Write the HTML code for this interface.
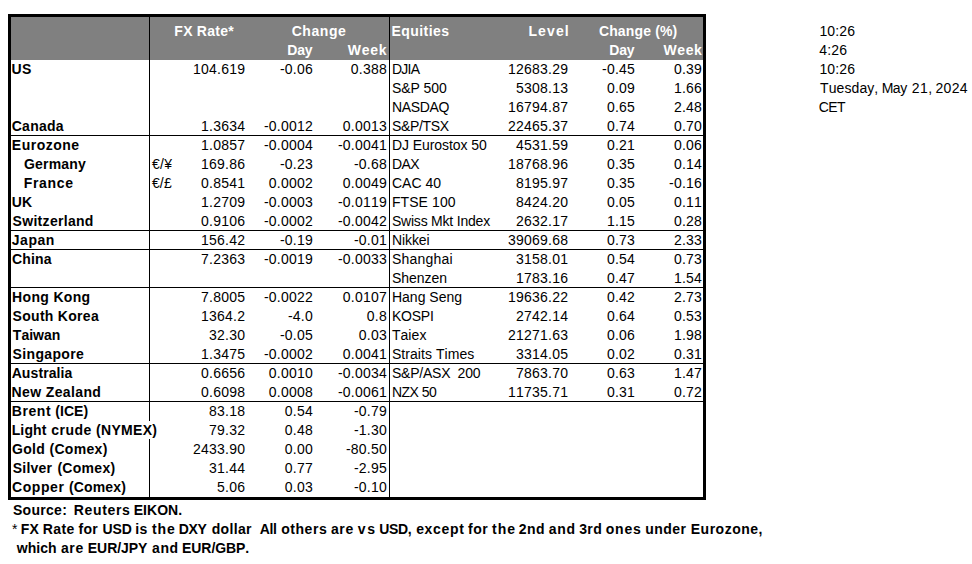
<!DOCTYPE html>
<html><head><meta charset="utf-8"><title>FX</title>
<style>
html,body{margin:0;padding:0;background:#fff;}
body{width:972px;height:564px;position:relative;overflow:hidden;font-family:"Liberation Sans",sans-serif;font-size:14px;line-height:19px;color:#000;}
.t{position:absolute;white-space:pre;height:19px;font-kerning:none;font-feature-settings:"kern" 0,"liga" 0;}
.b{font-weight:bold;}
.w{color:#fff;font-weight:bold;}
.k{position:absolute;background:#000;}
</style></head><body>

<div style="position:absolute;left:11px;top:17px;width:692px;height:43px;background:#808080"></div>
<div class="k" style="left:8px;top:14px;width:698px;height:3px"></div>
<div class="k" style="left:8px;top:497px;width:698px;height:3px"></div>
<div class="k" style="left:8px;top:14px;width:3px;height:486px"></div>
<div class="k" style="left:703px;top:14px;width:3px;height:486px"></div>
<div class="k" style="left:149px;top:17px;width:1px;height:404px"></div>
<div class="k" style="left:149px;top:439px;width:1px;height:58px"></div>
<div class="k" style="left:389px;top:17px;width:1px;height:480px"></div>
<div class="k" style="left:11px;top:135px;width:692px;height:1px"></div>
<div class="k" style="left:11px;top:230px;width:692px;height:1px"></div>
<div class="k" style="left:11px;top:249px;width:692px;height:1px"></div>
<div class="k" style="left:11px;top:287px;width:692px;height:1px"></div>
<div class="k" style="left:11px;top:363px;width:692px;height:1px"></div>
<div class="k" style="left:11px;top:401px;width:692px;height:1px"></div>
<div class="t w" style="left:174.36px;top:22px;letter-spacing:0.240px">FX Rate*</div>
<div class="t w" style="left:291.73px;top:22px;letter-spacing:0.543px">Change</div>
<div class="t w" style="left:287.26px;top:41px;letter-spacing:-0.235px">Day</div>
<div class="t w" style="left:347.79px;top:41px;letter-spacing:0.709px">Week</div>
<div class="t w" style="left:391.46px;top:22px;letter-spacing:0.437px">Equities</div>
<div class="t w" style="left:528.46px;top:22px;letter-spacing:1.107px">Level</div>
<div class="t w" style="left:598.93px;top:22px;letter-spacing:0.141px">Change (%)</div>
<div class="t w" style="left:609.26px;top:41px;letter-spacing:-0.235px">Day</div>
<div class="t w" style="left:663.39px;top:41px;letter-spacing:0.643px">Week</div>
<div class="t b" style="left:11.56px;top:60px;letter-spacing:0.339px">US</div>
<div class="t " style="left:193.07px;top:60px;letter-spacing:0.220px">104.619</div>
<div class="t " style="left:279.91px;top:60px;letter-spacing:0.220px">-0.06</div>
<div class="t " style="left:350.79px;top:60px;letter-spacing:0.220px">0.388</div>
<div class="t " style="left:391.90px;top:60px;letter-spacing:-0.737px">DJIA</div>
<div class="t " style="left:508.07px;top:60px;letter-spacing:0.220px">12683.29</div>
<div class="t " style="left:602.01px;top:60px;letter-spacing:0.220px">-0.45</div>
<div class="t " style="left:673.99px;top:60px;letter-spacing:0.220px">0.39</div>
<div class="t " style="left:391.90px;top:79px;letter-spacing:-0.061px">S&amp;P 500</div>
<div class="t " style="left:516.07px;top:79px;letter-spacing:0.220px">5308.13</div>
<div class="t " style="left:606.89px;top:79px;letter-spacing:0.220px">0.09</div>
<div class="t " style="left:673.99px;top:79px;letter-spacing:0.220px">1.66</div>
<div class="t " style="left:391.90px;top:98px;letter-spacing:-0.321px">NASDAQ</div>
<div class="t " style="left:508.07px;top:98px;letter-spacing:0.220px">16794.87</div>
<div class="t " style="left:606.89px;top:98px;letter-spacing:0.220px">0.65</div>
<div class="t " style="left:673.99px;top:98px;letter-spacing:0.220px">2.48</div>
<div class="t b" style="left:11.73px;top:117px;letter-spacing:0.273px">Canada</div>
<div class="t " style="left:201.08px;top:117px;letter-spacing:0.220px">1.3634</div>
<div class="t " style="left:263.90px;top:117px;letter-spacing:0.220px">-0.0012</div>
<div class="t " style="left:342.78px;top:117px;letter-spacing:0.220px">0.0013</div>
<div class="t " style="left:391.90px;top:117px;letter-spacing:-0.331px">S&amp;P/TSX</div>
<div class="t " style="left:508.07px;top:117px;letter-spacing:0.220px">22465.37</div>
<div class="t " style="left:606.89px;top:117px;letter-spacing:0.220px">0.74</div>
<div class="t " style="left:673.99px;top:117px;letter-spacing:0.220px">0.70</div>
<div class="t b" style="left:11.86px;top:136px;letter-spacing:0.477px">Eurozone</div>
<div class="t " style="left:201.08px;top:136px;letter-spacing:0.220px">1.0857</div>
<div class="t " style="left:263.90px;top:136px;letter-spacing:0.220px">-0.0004</div>
<div class="t " style="left:337.90px;top:136px;letter-spacing:0.220px">-0.0041</div>
<div class="t " style="left:391.90px;top:136px;letter-spacing:-0.063px">DJ Eurostox 50</div>
<div class="t " style="left:516.07px;top:136px;letter-spacing:0.220px">4531.59</div>
<div class="t " style="left:606.89px;top:136px;letter-spacing:0.220px">0.21</div>
<div class="t " style="left:673.99px;top:136px;letter-spacing:0.220px">0.06</div>
<div class="t b" style="left:23.93px;top:155px;letter-spacing:0.201px">Germany</div>
<div class="t " style="left:151.89px;top:155px;letter-spacing:0.313px">€/¥</div>
<div class="t " style="left:201.08px;top:155px;letter-spacing:0.220px">169.86</div>
<div class="t " style="left:279.91px;top:155px;letter-spacing:0.220px">-0.23</div>
<div class="t " style="left:353.91px;top:155px;letter-spacing:0.220px">-0.68</div>
<div class="t " style="left:391.90px;top:155px;letter-spacing:-0.571px">DAX</div>
<div class="t " style="left:508.07px;top:155px;letter-spacing:0.220px">18768.96</div>
<div class="t " style="left:606.89px;top:155px;letter-spacing:0.220px">0.35</div>
<div class="t " style="left:673.99px;top:155px;letter-spacing:0.220px">0.14</div>
<div class="t b" style="left:23.81px;top:174px;letter-spacing:0.651px">France</div>
<div class="t " style="left:151.89px;top:174px;letter-spacing:0.193px">€/£</div>
<div class="t " style="left:201.08px;top:174px;letter-spacing:0.220px">0.8541</div>
<div class="t " style="left:268.78px;top:174px;letter-spacing:0.220px">0.0002</div>
<div class="t " style="left:342.78px;top:174px;letter-spacing:0.220px">0.0049</div>
<div class="t " style="left:391.90px;top:174px;letter-spacing:0.025px">CAC 40</div>
<div class="t " style="left:516.07px;top:174px;letter-spacing:0.220px">8195.97</div>
<div class="t " style="left:606.89px;top:174px;letter-spacing:0.220px">0.35</div>
<div class="t " style="left:669.11px;top:174px;letter-spacing:0.220px">-0.16</div>
<div class="t b" style="left:11.66px;top:193px;letter-spacing:0.250px">UK</div>
<div class="t " style="left:201.08px;top:193px;letter-spacing:0.220px">1.2709</div>
<div class="t " style="left:263.90px;top:193px;letter-spacing:0.220px">-0.0003</div>
<div class="t " style="left:337.90px;top:193px;letter-spacing:0.220px">-0.0119</div>
<div class="t " style="left:391.90px;top:193px;letter-spacing:0.089px">FTSE 100</div>
<div class="t " style="left:516.07px;top:193px;letter-spacing:0.220px">8424.20</div>
<div class="t " style="left:606.89px;top:193px;letter-spacing:0.220px">0.05</div>
<div class="t " style="left:673.99px;top:193px;letter-spacing:0.220px">0.11</div>
<div class="t b" style="left:12.60px;top:212px;letter-spacing:0.303px">Switzerland</div>
<div class="t " style="left:201.08px;top:212px;letter-spacing:0.220px">0.9106</div>
<div class="t " style="left:263.90px;top:212px;letter-spacing:0.220px">-0.0002</div>
<div class="t " style="left:337.90px;top:212px;letter-spacing:0.220px">-0.0042</div>
<div class="t " style="left:391.90px;top:212px;letter-spacing:-0.206px">Swiss Mkt Index</div>
<div class="t " style="left:516.07px;top:212px;letter-spacing:0.220px">2632.17</div>
<div class="t " style="left:606.89px;top:212px;letter-spacing:0.220px">1.15</div>
<div class="t " style="left:673.99px;top:212px;letter-spacing:0.220px">0.28</div>
<div class="t b" style="left:11.79px;top:231px;letter-spacing:0.530px">Japan</div>
<div class="t " style="left:201.08px;top:231px;letter-spacing:0.220px">156.42</div>
<div class="t " style="left:279.91px;top:231px;letter-spacing:0.220px">-0.19</div>
<div class="t " style="left:353.91px;top:231px;letter-spacing:0.220px">-0.01</div>
<div class="t " style="left:391.90px;top:231px;letter-spacing:-0.065px">Nikkei</div>
<div class="t " style="left:508.07px;top:231px;letter-spacing:0.220px">39069.68</div>
<div class="t " style="left:606.89px;top:231px;letter-spacing:0.220px">0.73</div>
<div class="t " style="left:673.99px;top:231px;letter-spacing:0.220px">2.33</div>
<div class="t b" style="left:11.93px;top:250px;letter-spacing:0.211px">China</div>
<div class="t " style="left:201.08px;top:250px;letter-spacing:0.220px">7.2363</div>
<div class="t " style="left:263.90px;top:250px;letter-spacing:0.220px">-0.0019</div>
<div class="t " style="left:337.90px;top:250px;letter-spacing:0.220px">-0.0033</div>
<div class="t " style="left:391.90px;top:250px;letter-spacing:0.233px">Shanghai</div>
<div class="t " style="left:516.07px;top:250px;letter-spacing:0.220px">3158.01</div>
<div class="t " style="left:606.89px;top:250px;letter-spacing:0.220px">0.54</div>
<div class="t " style="left:673.99px;top:250px;letter-spacing:0.220px">0.73</div>
<div class="t " style="left:391.90px;top:269px;letter-spacing:-0.002px">Shenzen</div>
<div class="t " style="left:516.07px;top:269px;letter-spacing:0.220px">1783.16</div>
<div class="t " style="left:606.89px;top:269px;letter-spacing:0.220px">0.47</div>
<div class="t " style="left:673.99px;top:269px;letter-spacing:0.220px">1.54</div>
<div class="t b" style="left:12.06px;top:288px;letter-spacing:0.338px">Hong Kong</div>
<div class="t " style="left:201.08px;top:288px;letter-spacing:0.220px">7.8005</div>
<div class="t " style="left:263.90px;top:288px;letter-spacing:0.220px">-0.0022</div>
<div class="t " style="left:342.78px;top:288px;letter-spacing:0.220px">0.0107</div>
<div class="t " style="left:391.90px;top:288px;letter-spacing:0.025px">Hang Seng</div>
<div class="t " style="left:508.07px;top:288px;letter-spacing:0.220px">19636.22</div>
<div class="t " style="left:606.89px;top:288px;letter-spacing:0.220px">0.42</div>
<div class="t " style="left:673.99px;top:288px;letter-spacing:0.220px">2.73</div>
<div class="t b" style="left:12.60px;top:307px;letter-spacing:0.284px">South Korea</div>
<div class="t " style="left:201.08px;top:307px;letter-spacing:0.220px">1364.2</div>
<div class="t " style="left:287.92px;top:307px;letter-spacing:0.220px">-4.0</div>
<div class="t " style="left:366.80px;top:307px;letter-spacing:0.220px">0.8</div>
<div class="t " style="left:391.90px;top:307px;letter-spacing:-0.225px">KOSPI</div>
<div class="t " style="left:516.07px;top:307px;letter-spacing:0.220px">2742.14</div>
<div class="t " style="left:606.89px;top:307px;letter-spacing:0.220px">0.64</div>
<div class="t " style="left:673.99px;top:307px;letter-spacing:0.220px">0.53</div>
<div class="t b" style="left:12.84px;top:326px;letter-spacing:0.014px">Taiwan</div>
<div class="t " style="left:209.09px;top:326px;letter-spacing:0.220px">32.30</div>
<div class="t " style="left:279.91px;top:326px;letter-spacing:0.220px">-0.05</div>
<div class="t " style="left:358.79px;top:326px;letter-spacing:0.220px">0.03</div>
<div class="t " style="left:391.90px;top:326px;letter-spacing:0.067px">Taiex</div>
<div class="t " style="left:508.07px;top:326px;letter-spacing:0.220px">21271.63</div>
<div class="t " style="left:606.89px;top:326px;letter-spacing:0.220px">0.06</div>
<div class="t " style="left:673.99px;top:326px;letter-spacing:0.220px">1.98</div>
<div class="t b" style="left:12.60px;top:345px;letter-spacing:0.335px">Singapore</div>
<div class="t " style="left:201.08px;top:345px;letter-spacing:0.220px">1.3475</div>
<div class="t " style="left:263.90px;top:345px;letter-spacing:0.220px">-0.0002</div>
<div class="t " style="left:342.78px;top:345px;letter-spacing:0.220px">0.0041</div>
<div class="t " style="left:391.90px;top:345px;letter-spacing:0.057px">Straits Times</div>
<div class="t " style="left:516.07px;top:345px;letter-spacing:0.220px">3314.05</div>
<div class="t " style="left:606.89px;top:345px;letter-spacing:0.220px">0.02</div>
<div class="t " style="left:673.99px;top:345px;letter-spacing:0.220px">0.31</div>
<div class="t b" style="left:11.65px;top:364px;letter-spacing:0.106px">Australia</div>
<div class="t " style="left:201.08px;top:364px;letter-spacing:0.220px">0.6656</div>
<div class="t " style="left:268.78px;top:364px;letter-spacing:0.220px">0.0010</div>
<div class="t " style="left:337.90px;top:364px;letter-spacing:0.220px">-0.0034</div>
<div class="t " style="left:391.90px;top:364px;letter-spacing:-0.219px">S&amp;P/ASX  200</div>
<div class="t " style="left:516.07px;top:364px;letter-spacing:0.220px">7863.70</div>
<div class="t " style="left:606.89px;top:364px;letter-spacing:0.220px">0.63</div>
<div class="t " style="left:673.99px;top:364px;letter-spacing:0.220px">1.47</div>
<div class="t b" style="left:11.56px;top:383px;letter-spacing:0.378px">New Zealand</div>
<div class="t " style="left:201.08px;top:383px;letter-spacing:0.220px">0.6098</div>
<div class="t " style="left:268.78px;top:383px;letter-spacing:0.220px">0.0008</div>
<div class="t " style="left:337.90px;top:383px;letter-spacing:0.220px">-0.0061</div>
<div class="t " style="left:391.90px;top:383px;letter-spacing:-0.513px">NZX 50</div>
<div class="t " style="left:508.07px;top:383px;letter-spacing:0.220px">11735.71</div>
<div class="t " style="left:606.89px;top:383px;letter-spacing:0.220px">0.31</div>
<div class="t " style="left:673.99px;top:383px;letter-spacing:0.220px">0.72</div>
<div class="t b" style="left:11.66px;top:402px;letter-spacing:0.612px">Brent</div>
<div class="t b" style="left:55.20px;top:402px;letter-spacing:0.083px">(ICE)</div>
<div class="t " style="left:209.09px;top:402px;letter-spacing:0.220px">83.18</div>
<div class="t " style="left:284.79px;top:402px;letter-spacing:0.220px">0.54</div>
<div class="t " style="left:353.91px;top:402px;letter-spacing:0.220px">-0.79</div>
<div class="t b" style="left:11.66px;top:421px;letter-spacing:0.150px">Light</div>
<div class="t b" style="left:51.25px;top:421px;letter-spacing:0.500px">crude</div>
<div class="t b" style="left:96.10px;top:421px;letter-spacing:0.297px">(NYMEX)</div>
<div class="t " style="left:209.09px;top:421px;letter-spacing:0.220px">79.32</div>
<div class="t " style="left:284.79px;top:421px;letter-spacing:0.220px">0.48</div>
<div class="t " style="left:353.91px;top:421px;letter-spacing:0.220px">-1.30</div>
<div class="t b" style="left:12.03px;top:440px;letter-spacing:0.271px">Gold</div>
<div class="t b" style="left:49.40px;top:440px;letter-spacing:0.331px">(Comex)</div>
<div class="t " style="left:193.07px;top:440px;letter-spacing:0.220px">2433.90</div>
<div class="t " style="left:284.79px;top:440px;letter-spacing:0.220px">0.00</div>
<div class="t " style="left:345.90px;top:440px;letter-spacing:0.220px">-80.50</div>
<div class="t b" style="left:12.70px;top:459px;letter-spacing:0.236px">Silver</div>
<div class="t b" style="left:57.40px;top:459px;letter-spacing:0.298px">(Comex)</div>
<div class="t " style="left:209.09px;top:459px;letter-spacing:0.220px">31.44</div>
<div class="t " style="left:284.79px;top:459px;letter-spacing:0.220px">0.77</div>
<div class="t " style="left:353.91px;top:459px;letter-spacing:0.220px">-2.95</div>
<div class="t b" style="left:12.03px;top:478px;letter-spacing:0.577px">Copper</div>
<div class="t b" style="left:69.00px;top:478px;letter-spacing:0.148px">(Comex)</div>
<div class="t " style="left:217.09px;top:478px;letter-spacing:0.220px">5.06</div>
<div class="t " style="left:284.79px;top:478px;letter-spacing:0.220px">0.03</div>
<div class="t " style="left:353.91px;top:478px;letter-spacing:0.220px">-0.10</div>
<div class="t b" style="left:12.90px;top:501px;letter-spacing:0.304px">Source:</div>
<div class="t b" style="left:73.76px;top:501px;letter-spacing:0.647px">Reuters</div>
<div class="t b" style="left:133.76px;top:501px;letter-spacing:0.035px">EIKON.</div>
<div class="t " style="left:11.97px;top:520px;letter-spacing:0.000px">*</div>
<div class="t b" style="left:20.76px;top:520px;letter-spacing:0.170px">FX</div>
<div class="t b" style="left:42.76px;top:520px;letter-spacing:0.390px">Rate</div>
<div class="t b" style="left:78.46px;top:520px;letter-spacing:0.295px">for</div>
<div class="t b" style="left:102.46px;top:520px;letter-spacing:-0.115px">USD</div>
<div class="t b" style="left:135.22px;top:520px;letter-spacing:0.376px">is</div>
<div class="t b" style="left:152.03px;top:520px;letter-spacing:0.825px">the</div>
<div class="t b" style="left:178.76px;top:520px;letter-spacing:-0.312px">DXY</div>
<div class="t b" style="left:211.63px;top:520px;letter-spacing:0.354px">dollar</div>
<div class="t b" style="left:259.65px;top:520px;letter-spacing:-0.375px">All</div>
<div class="t b" style="left:281.15px;top:520px;letter-spacing:0.567px">others</div>
<div class="t b" style="left:330.89px;top:520px;letter-spacing:0.684px">are</div>
<div class="t b" style="left:357.75px;top:520px;letter-spacing:1.757px">vs</div>
<div class="t b" style="left:379.16px;top:520px;letter-spacing:-0.290px">USD,</div>
<div class="t b" style="left:416.15px;top:520px;letter-spacing:0.692px">except</div>
<div class="t b" style="left:468.06px;top:520px;letter-spacing:0.495px">for</div>
<div class="t b" style="left:492.03px;top:520px;letter-spacing:0.975px">the</div>
<div class="t b" style="left:518.71px;top:520px;letter-spacing:0.509px">2nd</div>
<div class="t b" style="left:548.79px;top:520px;letter-spacing:0.722px">and</div>
<div class="t b" style="left:579.18px;top:520px;letter-spacing:0.379px">3rd</div>
<div class="t b" style="left:605.75px;top:520px;letter-spacing:0.815px">ones</div>
<div class="t b" style="left:645.33px;top:520px;letter-spacing:0.448px">under</div>
<div class="t b" style="left:690.76px;top:520px;letter-spacing:0.501px">Eurozone,</div>
<div class="t b" style="left:16.74px;top:539px;letter-spacing:0.065px">which</div>
<div class="t b" style="left:60.89px;top:539px;letter-spacing:0.684px">are</div>
<div class="t b" style="left:87.86px;top:539px;letter-spacing:-0.091px">EUR/JPY</div>
<div class="t b" style="left:151.99px;top:539px;letter-spacing:0.622px">and</div>
<div class="t b" style="left:182.06px;top:539px;letter-spacing:-0.068px">EUR/GBP.</div>
<div class="t " style="left:819.43px;top:22px;letter-spacing:0.162px">10:26</div>
<div class="t " style="left:819.18px;top:41px;letter-spacing:0.229px">4:26</div>
<div class="t " style="left:819.43px;top:60px;letter-spacing:0.162px">10:26</div>
<div class="t " style="left:819.99px;top:79px;letter-spacing:0.098px">Tuesday,</div>
<div class="t " style="left:881.65px;top:79px;letter-spacing:-0.436px">May</div>
<div class="t " style="left:911.80px;top:79px;letter-spacing:0.400px">21,</div>
<div class="t " style="left:935.50px;top:79px;letter-spacing:0.323px">2024</div>
<div class="t " style="left:818.79px;top:98px;letter-spacing:-0.634px">CET</div>
</body></html>
